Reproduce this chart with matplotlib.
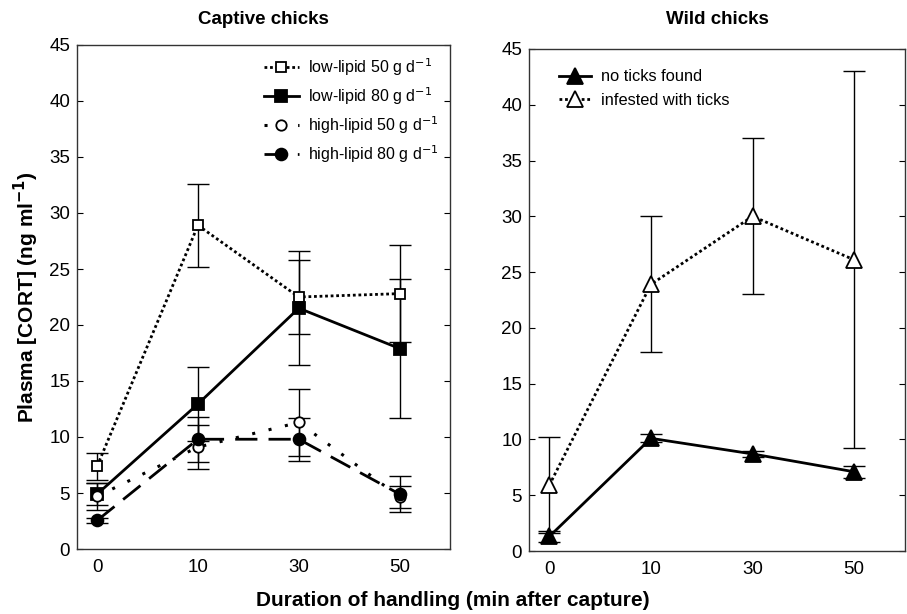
import numpy as np
import matplotlib
matplotlib.use("Agg")
import matplotlib.pyplot as plt

plt.rcParams['font.family'] = ['Liberation Sans', 'DejaVu Sans']

# handling time categories
x_labels = ['0', '10', '30', '50']

# captive chicks, plasma CORT (ng/ml), mean and error
low50 = [7.4, 28.9, 22.5, 22.8]
low50_err = [1.2, 3.7, 3.3, 4.3]
low80 = [4.9, 12.95, 21.5, 17.9]
low80_err = [1.0, 3.3, 5.1, 6.2]
high50 = [4.7, 9.1, 11.3, 4.65]
high50_err = [1.2, 2.0, 3.0, 0.95]
high80 = [2.55, 9.8, 9.8, 4.9]
high80_err = [0.25, 2.0, 1.9, 1.6]

# wild chicks
no_ticks = [1.3, 10.1, 8.7, 7.1]
no_ticks_err = [0.5, 0.35, 0.3, 0.55]
infested = [5.9, 23.9, 30.0, 26.1]
infested_err = [4.3, 6.1, 7.0, 16.9]

W, H = 907, 614
fig = plt.figure(figsize=(W / 100, H / 100), dpi=100)
ax1 = fig.add_axes([77 / W, 1 - 549 / H, (450 - 77) / W, (549 - 45) / H])
ax2 = fig.add_axes([529 / W, 1 - 551 / H, (905 - 529) / W, (551 - 49) / H])

x = np.arange(len(x_labels))
ebkw = dict(ecolor='black', elinewidth=1, capsize=8, capthick=1)


def series(ax, y, err, marker, fill, ls, lw, ms, label):
    ax.errorbar(x, y, yerr=err, fmt='none', zorder=2, **ebkw)
    ax.plot(x, y, color='black', linestyle=ls, linewidth=lw, marker=marker,
            markersize=ms, markerfacecolor=fill, markeredgecolor='black',
            markeredgewidth=1.3, label=label, zorder=3)


series(ax1, low50, low50_err, 's', 'white', (0, (1, 1)), 2, 7.5, 'low-lipid 50 g d$^{-1}$')
series(ax1, low80, low80_err, 's', 'black', '-', 2, 8, 'low-lipid 80 g d$^{-1}$')
series(ax1, high50, high50_err, 'o', 'white', (0, (1, 4.5)), 2.2, 7.5, 'high-lipid 50 g d$^{-1}$')
series(ax1, high80, high80_err, 'o', 'black', (0, (8, 4)), 2, 8.5, 'high-lipid 80 g d$^{-1}$')

series(ax2, no_ticks, no_ticks_err, '^', 'black', '-', 2, 11, 'no ticks found')
series(ax2, infested, infested_err, '^', 'white', (0, (1, 1)), 2, 11, 'infested with ticks')

for ax in (ax1, ax2):
    ax.set_xlim(-0.2, 3.5)
    ax.set_ylim(0, 45)
    ax.set_xticks(x)
    ax.set_xticklabels(x_labels)
    ax.set_yticks(np.arange(0, 46, 5))
    ax.tick_params(axis='both', direction='in', labelsize=13.5, right=True, length=4)
    ax.tick_params(axis='x', pad=7, length=0)
    ax.tick_params(axis='y', pad=5)
    for s in ax.spines.values():
        s.set_linewidth(1)
        s.set_color('#333333')

ax1.set_title('Captive chicks', fontsize=13.5, fontweight='bold', pad=15)
ax2.set_title('Wild chicks', fontsize=13.5, fontweight='bold', pad=18)
ax1.set_ylabel('Plasma [CORT] (ng ml$^{\\mathbf{-1}}$)', fontsize=15, fontweight='bold', labelpad=6)
fig.text(453 / W, 1 - 600 / H, 'Duration of handling (min after capture)',
         fontsize=15, fontweight='bold', ha='center', va='center')

ax1.legend(loc='upper right', frameon=False, fontsize=11.5, handlelength=2.2,
           labelspacing=0.45, borderaxespad=0.3, handletextpad=0.6)
ax2.legend(loc='upper left', bbox_to_anchor=(0.0, 1.018), frameon=False,
           fontsize=11.8, handlelength=2.0, labelspacing=0.5, borderaxespad=1.4,
           handletextpad=0.6)

fig.savefig('out.png', dpi=100)
